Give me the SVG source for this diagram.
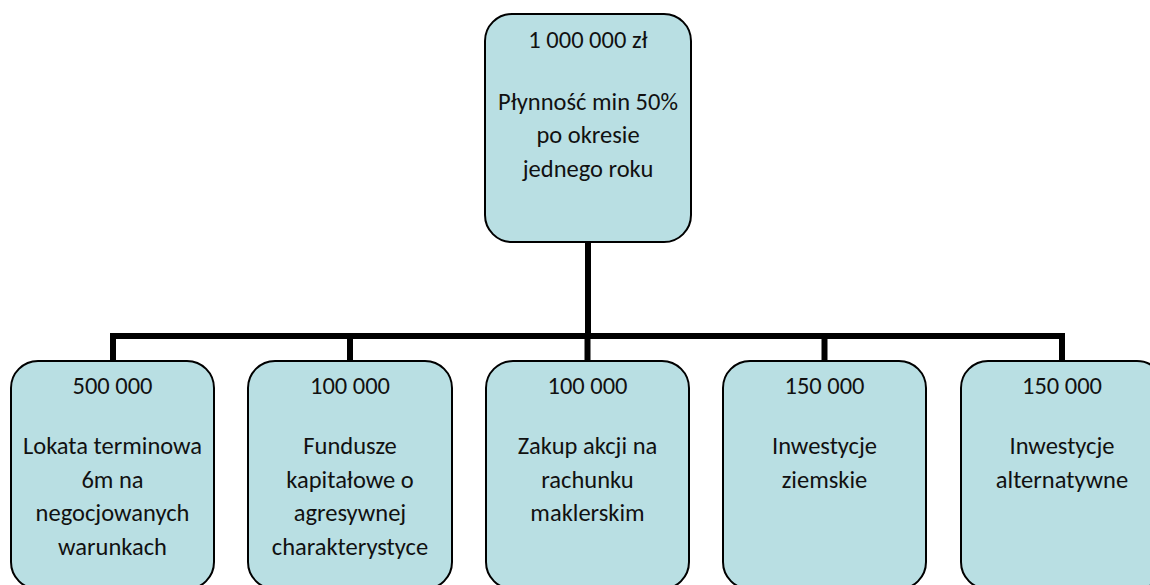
<svg xmlns="http://www.w3.org/2000/svg" width="1150" height="585" viewBox="0 0 1150 585">
  <style>
    .box { fill: #b9dfe3; stroke: #000; stroke-width: 2; }
    .lbl { font-family: Carlito, Lato, "Open Sans", sans-serif; font-size: 24.5px; fill: #111; text-anchor: middle; }
    .wire { fill: none; stroke: #000; stroke-width: 6; stroke-linejoin: miter; }
  </style>
  <rect width="1150" height="585" fill="#fff"/>

  <g id="connectors">
    <path class="wire" d="M588 242 V336"/>
    <path class="wire" d="M113 361 V336 H1062 V361"/>
    <path class="wire" d="M350 336 V361"/>
    <path class="wire" d="M587.5 336 V361"/>
    <path class="wire" d="M824.5 336 V361"/>
  </g>

  <g id="root">
    <rect class="box" x="485" y="14" width="206" height="228" rx="27" ry="27"/>
    <text class="lbl" x="588" y="48">1 000 000 zł</text>
    <text class="lbl" x="588" y="110">Płynność min 50%</text>
    <text class="lbl" x="588" y="143">po okresie</text>
    <text class="lbl" x="588" y="177">jednego roku</text>
  </g>

  <g id="lokata">
    <rect class="box" x="11" y="361" width="203" height="228" rx="27" ry="27"/>
    <text class="lbl" x="112.5" y="394">500 000</text>
    <text class="lbl" x="112.5" y="454">Lokata terminowa</text>
    <text class="lbl" x="112.5" y="488">6m na</text>
    <text class="lbl" x="112.5" y="521">negocjowanych</text>
    <text class="lbl" x="112.5" y="555">warunkach</text>
  </g>

  <g id="fundusze">
    <rect class="box" x="248" y="361" width="204" height="228" rx="27" ry="27"/>
    <text class="lbl" x="350" y="394">100 000</text>
    <text class="lbl" x="350" y="454">Fundusze</text>
    <text class="lbl" x="350" y="488">kapitałowe o</text>
    <text class="lbl" x="350" y="521">agresywnej</text>
    <text class="lbl" x="350" y="555">charakterystyce</text>
  </g>

  <g id="akcje">
    <rect class="box" x="486" y="361" width="203" height="228" rx="27" ry="27"/>
    <text class="lbl" x="587.5" y="394">100 000</text>
    <text class="lbl" x="587.5" y="454">Zakup akcji na</text>
    <text class="lbl" x="587.5" y="488">rachunku</text>
    <text class="lbl" x="587.5" y="521">maklerskim</text>
  </g>

  <g id="ziemskie">
    <rect class="box" x="723" y="361" width="203" height="228" rx="27" ry="27"/>
    <text class="lbl" x="824.5" y="394">150 000</text>
    <text class="lbl" x="824.5" y="454">Inwestycje</text>
    <text class="lbl" x="824.5" y="488">ziemskie</text>
  </g>

  <g id="alternatywne">
    <rect class="box" x="961" y="361" width="203" height="228" rx="27" ry="27"/>
    <text class="lbl" x="1062" y="394">150 000</text>
    <text class="lbl" x="1062" y="454">Inwestycje</text>
    <text class="lbl" x="1062" y="488">alternatywne</text>
  </g>
</svg>
